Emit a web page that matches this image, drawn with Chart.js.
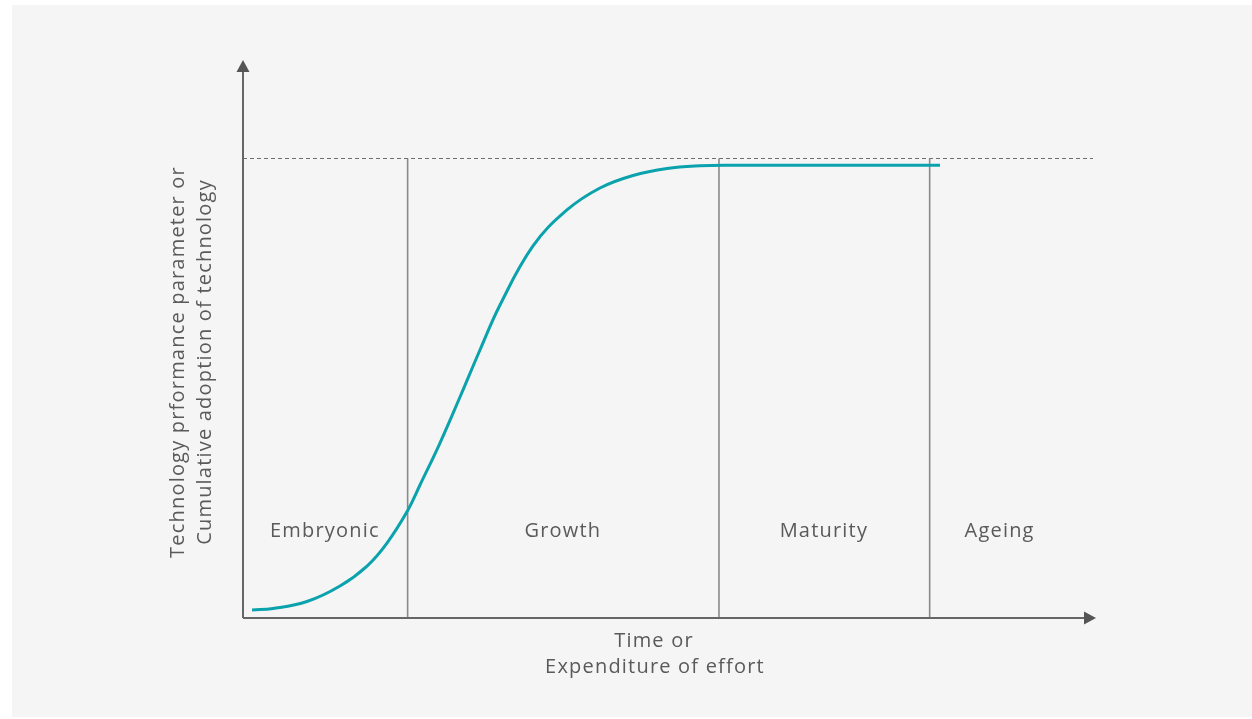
<!DOCTYPE html>
<html>
<head>
<meta charset="utf-8">
<script src="https://cdn.jsdelivr.net/npm/chart.js@4/dist/chart.umd.min.js"></script>
<style>
  html, body { margin: 0; padding: 0; background: #ffffff; }
  #panel { position: absolute; left: 12px; top: 5px; width: 1240px; height: 712px; background: #f5f5f5; }
  #wrap { position: absolute; left: 0; top: 0; width: 1252px; height: 719px; }
</style>
</head>
<body>
<div id="panel"></div>
<div id="wrap"><canvas id="c"></canvas></div>
<script>
// S-curve (x: time/effort, y: performance / adoption, 100 = limit)
const curveX = [1.06, 3.52, 7.50, 11.37, 14.54, 16.88, 19.34, 20.75, 23.09, 25.44, 27.78, 30.13, 34.00, 37.98, 41.85, 45.72, 49.71, 53.58, 57.09, 81.71];
const curveY = [1.74, 2.07, 3.59, 6.96, 11.30, 16.30, 23.48, 28.91, 38.04, 48.04, 58.26, 68.04, 80.87, 88.70, 93.48, 96.20, 97.72, 98.30, 98.41, 98.41];

// Phase boundaries and labels
const phaseBoundaries = [19.3, 55.8, 80.5];
const phaseNames = ["Embryonic", "Growth", "Maturity", "Ageing"];
const phaseLabelX = [9.6, 37.5, 68.1, 88.7];
const phaseLabelY = 18.9;
const limitLevel = 100;

const yTitle = ["Technology prformance parameter or", "Cumulative adoption of technology"];
const xTitle = ["Time or", "Expenditure of effort"];

const FONT = '"Open Sans", "DejaVu Sans", sans-serif';

function spaced(ctx) {
  ctx.font = '20px ' + FONT;
  if ('letterSpacing' in ctx) ctx.letterSpacing = '1.2px';
}

const decor = {
  id: 'decor',
  beforeDatasetsDraw(chart) {
    const ctx = chart.ctx, a = chart.chartArea;
    const xs = chart.scales.x, ys = chart.scales.y;
    ctx.save();
    // dashed limit line
    ctx.strokeStyle = '#6f6f6f';
    ctx.lineWidth = 1;
    ctx.setLineDash([4, 3]);
    const yl = Math.round(ys.getPixelForValue(limitLevel)) + 0.5;
    ctx.beginPath(); ctx.moveTo(a.left, yl); ctx.lineTo(a.right - 3, yl); ctx.stroke();
    ctx.setLineDash([]);
    // phase boundaries
    ctx.strokeStyle = '#8a8a8a';
    ctx.lineWidth = 1.6;
    phaseBoundaries.forEach(v => {
      const x = xs.getPixelForValue(v);
      ctx.beginPath(); ctx.moveTo(x, yl); ctx.lineTo(x, ys.getPixelForValue(0)); ctx.stroke();
    });
    // phase labels
    ctx.fillStyle = '#5a5a5a';
    spaced(ctx);
    ctx.textAlign = 'center'; ctx.textBaseline = 'middle';
    phaseNames.forEach((n, i) => {
      ctx.fillText(n, xs.getPixelForValue(phaseLabelX[i]), ys.getPixelForValue(phaseLabelY));
    });
    // axes with arrows
    const x0 = xs.getPixelForValue(0), y0 = ys.getPixelForValue(0);
    ctx.strokeStyle = '#666666';
    ctx.fillStyle = '#555555';
    ctx.lineWidth = 2;
    ctx.beginPath(); ctx.moveTo(x0, y0); ctx.lineTo(x0, a.top + 10); ctx.stroke();
    ctx.beginPath(); ctx.moveTo(x0, y0); ctx.lineTo(a.right - 10, y0); ctx.stroke();
    ctx.beginPath(); ctx.moveTo(x0, a.top); ctx.lineTo(x0 - 6.5, a.top + 12); ctx.lineTo(x0 + 6.5, a.top + 12); ctx.closePath(); ctx.fill();
    ctx.beginPath(); ctx.moveTo(a.right, y0); ctx.lineTo(a.right - 12, y0 - 6.5); ctx.lineTo(a.right - 12, y0 + 6.5); ctx.closePath(); ctx.fill();
    // axis titles
    ctx.fillStyle = '#5a5a5a';
    spaced(ctx);
    const midY = 362;
    ctx.save();
    ctx.translate(178, midY); ctx.rotate(-Math.PI / 2);
    ctx.fillText(yTitle[0], 0, 0);
    ctx.restore();
    ctx.save();
    ctx.translate(205, midY); ctx.rotate(-Math.PI / 2);
    ctx.fillText(yTitle[1], 0, 0);
    ctx.restore();
    ctx.fillText(xTitle[0], 654, 641);
    ctx.fillText(xTitle[1], 655, 667);
    ctx.restore();
  }
};

new Chart(document.getElementById('c'), {
  type: 'scatter',
  data: {
    datasets: [{
      data: curveX.map((x, i) => ({ x: x, y: curveY[i] })),
      showLine: true,
      borderColor: '#0aa2ad',
      borderWidth: 3,
      pointRadius: 0,
      tension: 0.4,
      fill: false
    }]
  },
  options: {
    responsive: true,
    maintainAspectRatio: false,
    animation: false,
    layout: { padding: { left: 243, right: 156, top: 60, bottom: 101 } },
    plugins: { legend: { display: false }, tooltip: { enabled: false } },
    scales: {
      x: { type: 'linear', min: 0, max: 100, display: false },
      y: { type: 'linear', min: 0, max: 121.3, display: false }
    }
  },
  plugins: [decor]
});
</script>
</body>
</html>
